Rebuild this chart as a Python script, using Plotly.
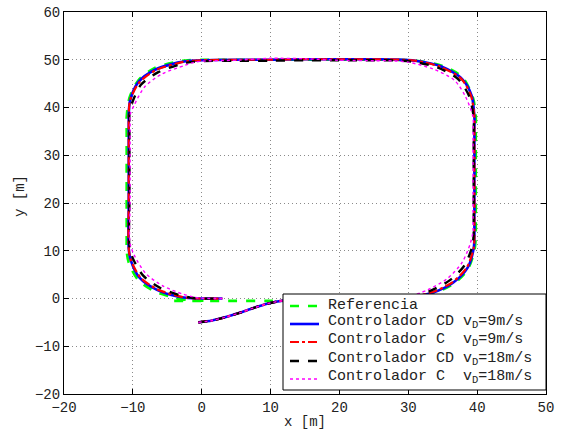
import plotly.graph_objects as go

# Reference path (green)
x_ref = [-4, 0, 5, 10, 15, 20, 25, 28, 30, 33.5, 36.5, 38.6, 39.6, 39.8, 39.8, 39.8, 39.8,
         39.8, 39.4, 37.9, 35, 31, 28, 25, 20, 15, 10, 5, 0, -2, -3.5, -6.8, -9.2, -10.5, -10.9,
         -10.9, -10.9, -10.9, -10.9, -10.9, -10.6, -9.3, -7, -4, -2, -1, 2]
y_ref = [-0.5, -0.5, -0.5, -0.5, -0.5, -0.5, -0.45, -0.3, 0, 1, 3, 6, 10, 13, 15, 25, 35,
         38, 42, 46.3, 48.7, 49.8, 50, 50, 50, 50, 50, 50, 50, 49.9, 49.6, 48.3, 45.7, 42, 38,
         35, 30, 20, 12, 10, 7.5, 4, 1.6, 0.2, -0.3, -0.4, -0.5]

# Controlador CD, vD = 9 m/s (blue)
x_cd9 = [-0.5, 1.5, 3.5, 5.5, 7.5, 9.5, 12, 15,
         20, 25, 28, 30,
         33.5, 36.5, 38.6, 39.5,
         39.6, 39.6, 39.6, 39.6, 39.6,
         39.2, 37.8, 34.8, 31,
         28, 25, 20, 15, 10, 5, 0,
         -2, -3.5, -6.8, -9.2, -10.4,
         -10.6, -10.6, -10.6, -10.6, -10.6,
         -10.3, -9, -6.5, -3.5, -2,
         -0.5, 3]
y_cd9 = [-5, -4.6, -3.9, -3, -2, -1.1, -0.4, -0.1,
         0, 0, 0.05, 0.2,
         1.2, 3.3, 6.4, 10.5,
         13, 15, 25, 35, 38,
         42.5, 46, 48.6, 49.8,
         50.05, 50.1, 50.1, 50.1, 50, 50, 49.9,
         49.75, 49.4, 47.9, 45.3, 41.5,
         38.5, 37, 30, 20, 10.5,
         8, 4.3, 1.8, 0.4, 0.1,
         0, 0]

# Controlador C, vD = 9 m/s (red)
x_c9 = [-0.5, 1.5, 3.5, 5.5, 7.5, 9.5, 12, 15,
        20, 25, 28, 30,
        33.4, 36.4, 38.5, 39.5,
        39.6, 39.6, 39.6, 39.6, 39.6,
        39.1, 37.7, 34.7, 31,
        28, 25, 20, 15, 10, 5, 0,
        -2, -3.4, -6.7, -9.1, -10.4,
        -10.6, -10.6, -10.6, -10.6, -10.6,
        -10.3, -8.9, -6.4, -3.4, -2,
        -0.5, 3]
y_c9 = [-5, -4.6, -3.9, -3, -2, -1.1, -0.4, -0.1,
        0, 0, 0.05, 0.2,
        1.3, 3.4, 6.5, 10.6,
        13, 15, 25, 35, 38,
        42.5, 46, 48.5, 49.8,
        50.05, 50.1, 50.1, 50.1, 50, 50, 49.9,
        49.7, 49.3, 47.8, 45.2, 41.5,
        38.5, 37, 30, 20, 10.5,
        8.1, 4.4, 1.9, 0.5, 0.15,
        0, 0]

# Controlador CD, vD = 18 m/s (black)
x_cd18 = [-0.5, 1.5, 3.5, 5.5, 7.5, 9.5, 12, 15,
          20, 25, 28, 30,
          33, 36, 38.2, 39.3,
          39.5, 39.5, 39.5, 39.5, 39.5,
          38.8, 37.2, 34.2, 30.5,
          28, 25, 20, 15, 10, 5, 0,
          -1.6, -3, -6.3, -8.8, -10.1,
          -10.5, -10.5, -10.5, -10.5, -10.5,
          -10, -8.5, -6, -3, -1.6,
          -0.5, 3]
y_cd18 = [-5, -4.6, -3.9, -3, -2, -1.1, -0.4, -0.1,
          0, 0, 0.1, 0.3,
          1.5, 3.8, 7, 11,
          13.5, 15, 25, 35, 38,
          42.5, 46, 48.4, 49.6,
          49.85, 49.9, 49.9, 49.9, 49.8, 49.8, 49.7,
          49.5, 49.1, 47.4, 44.8, 41,
          38.5, 37, 30, 20, 11,
          8.4, 4.8, 2.2, 0.6, 0.2,
          0, 0]

# Controlador C, vD = 18 m/s (magenta)
x_c18 = [-0.5, 1.5, 3.5, 5.5, 7.5, 9.5, 12, 15,
         20, 25, 28, 30,
         32.8, 35.7, 37.8, 39,
         39.4, 39.4, 39.4, 39.4, 39.4,
         38.3, 36.7, 33.7, 30,
         27, 25, 20, 15, 10, 5, 0,
         -1.2, -2.5, -5.8, -8.3, -9.8,
         -10.4, -10.4, -10.4, -10.4, -10.4,
         -9.7, -8.1, -5.6, -2.7, -1.4,
         -0.5, 3]
y_c18 = [-5, -4.6, -3.9, -3, -2, -1.1, -0.4, -0.1,
         0, 0, 0.15, 0.4,
         1.8, 4.2, 7.5, 11.5,
         14, 15, 25, 35, 38,
         42.3, 45.7, 48, 49.5,
         49.8, 49.8, 49.9, 50.2, 50.3, 49.9, 49.7,
         49.4, 48.8, 47, 44.3, 40.5,
         38.5, 37, 30, 20, 11.5,
         8.8, 5.2, 2.6, 0.9, 0.4,
         0.1, 0]

names = ["Referencia",
         "Controlador CD v<sub>D</sub>=9m/s",
         "Controlador C  v<sub>D</sub>=9m/s",
         "Controlador CD v<sub>D</sub>=18m/s",
         "Controlador C  v<sub>D</sub>=18m/s"]

x_ticks = [-20, -10, 0, 10, 20, 30, 40, 50]
y_ticks = [-20, -10, 0, 10, 20, 30, 40, 50, 60]
x_title = "x [m]"
y_title = "y [m]"

series = [
    (x_ref, y_ref, "#00ff00", 2.6, "dash"),
    (x_cd9, y_cd9, "#0000ff", 2.6, "solid"),
    (x_c9, y_c9, "#ff0000", 2.2, "dashdot"),
    (x_cd18, y_cd18, "#000000", 2.4, "dash"),
    (x_c18, y_c18, "#ff00ff", 1.4, "dot"),
]

W, H = 566, 432
ML, MR, MT, MB = 64, 20, 12, 38
PW, PH = W - ML - MR, H - MT - MB


def px2x(px):
    return (px - ML) / PW


def py2y(py):
    return 1 - (py - MT) / PH


fig = go.Figure()
for (xs, ys, col, w, dash), nm in zip(series, names):
    fig.add_trace(go.Scatter(
        x=xs, y=ys, mode="lines", name=nm, showlegend=False,
        line=dict(color=col, width=w, dash=dash, shape="spline", smoothing=0.8),
    ))

mono = "Liberation Mono, Courier New, monospace"
txt_col = "#222"

# Hand-built legend (box, line samples, texts) in paper coordinates
shapes = [dict(type="rect", xref="paper", yref="paper",
               x0=px2x(283), x1=px2x(546), y0=py2y(390), y1=py2y(294),
               line=dict(color="black", width=1), fillcolor="white", layer="above")]
annotations = []
sample_y = [306, 324, 342, 361, 379]
text_y = [305, 322, 340, 359, 377]
for (xs, ys, col, w, dash), nm, sy, ty in zip(series, names, sample_y, text_y):
    shapes.append(dict(type="line", xref="paper", yref="paper",
                       x0=px2x(290), x1=px2x(319), y0=py2y(sy), y1=py2y(sy),
                       line=dict(color=col, width=w, dash=dash), layer="above"))
    annotations.append(dict(xref="paper", yref="paper", x=px2x(326), y=py2y(ty),
                            xanchor="left", yanchor="middle", showarrow=False,
                            text=nm, font=dict(family=mono, size=15, color=txt_col)))

# Axis titles
annotations.append(dict(xref="paper", yref="paper", x=px2x(305), y=py2y(422),
                        xanchor="center", yanchor="middle", showarrow=False,
                        text=x_title, font=dict(family=mono, size=14, color=txt_col)))
annotations.append(dict(xref="paper", yref="paper", x=px2x(20), y=py2y(196),
                        xanchor="center", yanchor="middle", showarrow=False, textangle=-90,
                        text=y_title, font=dict(family=mono, size=14, color=txt_col)))

axis_common = dict(
    showline=True, linecolor="black", linewidth=1, mirror="ticks",
    ticks="inside", ticklen=5, tickcolor="black",
    showgrid=True, gridcolor="#8a8a8a", griddash="1px,3px", gridwidth=1,
    zeroline=False, automargin=False,
    tickfont=dict(family=mono, size=14, color=txt_col),
)
fig.update_layout(
    width=W, height=H,
    margin=dict(l=ML, r=MR, t=MT, b=MB),
    paper_bgcolor="white", plot_bgcolor="white",
    xaxis=dict(range=[-20, 50], tickvals=x_ticks, **axis_common),
    yaxis=dict(range=[-20, 60], tickvals=y_ticks, **axis_common),
    shapes=shapes,
    annotations=annotations,
    showlegend=False,
)
fig.write_html("out.html")
